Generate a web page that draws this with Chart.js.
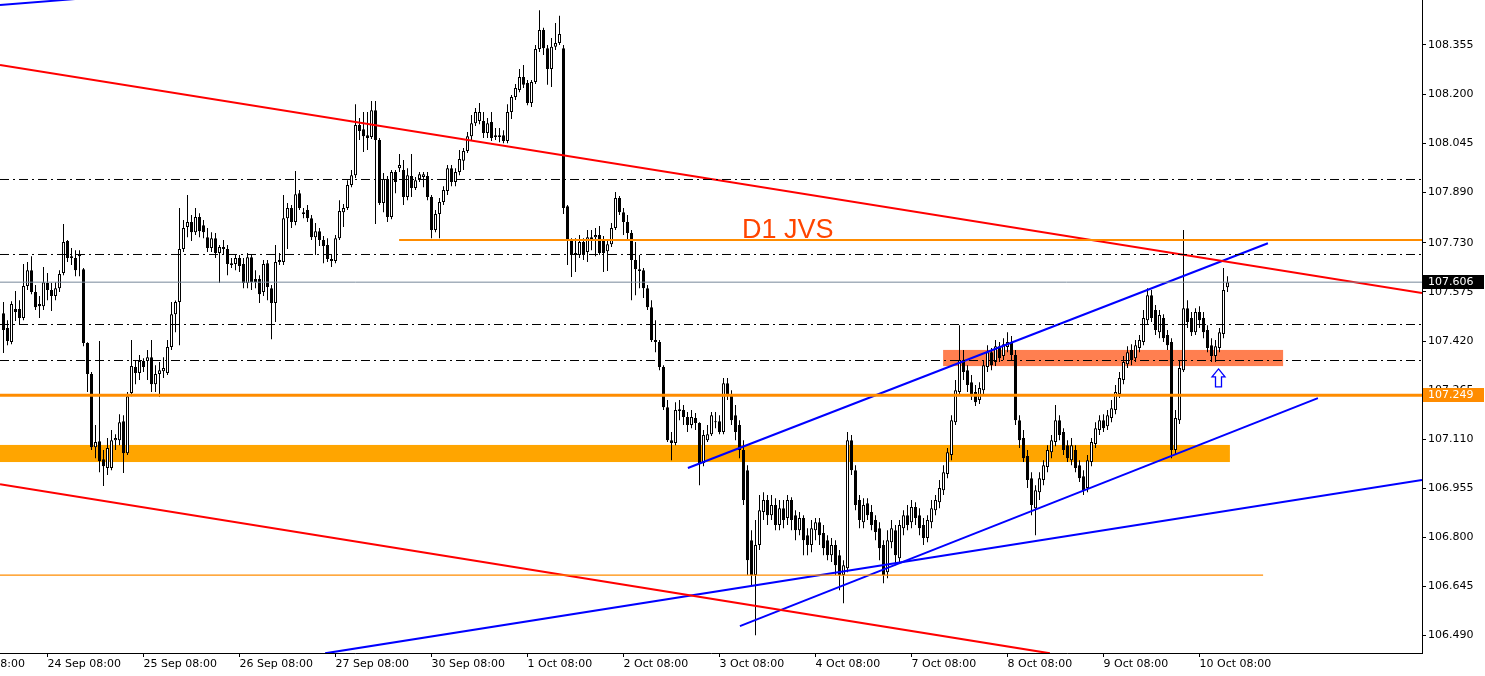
<!DOCTYPE html>
<html lang="en">
<head>
<meta charset="UTF-8" />
<title>H1 chart</title>
<script src="https://cdn.jsdelivr.net/npm/chart.js@4.4.1/dist/chart.umd.min.js"></script>
<style>
  html, body { margin: 0; padding: 0; background: #fff; }
  #wrap { width: 1485px; height: 676px; position: relative; }
</style>
</head>
<body>
<div id="wrap"><canvas id="chart"></canvas></div>
<script>
// hourly candles, index 0 = 23 Sep 21:00
const opens = [
  107.508,107.461,107.417,107.521,107.521,107.493,107.594,107.644,107.575,107.537,
  107.530,107.603,107.581,107.562,107.587,107.635,107.736,107.688,107.682,107.695,
  107.647,107.414,107.316,107.085,107.104,107.047,107.019,107.019,107.107,107.107,
  107.167,107.066,107.256,107.338,107.319,107.357,107.357,107.369,107.284,107.316,
  107.325,107.319,107.401,107.505,107.543,107.711,107.780,107.796,107.764,107.812,
  107.786,107.748,107.714,107.745,107.698,107.717,107.711,107.666,107.663,107.682,
  107.663,107.603,107.685,107.616,107.616,107.575,107.666,107.587,107.540,107.670,
  107.670,107.808,107.840,107.796,107.887,107.821,107.834,107.808,107.748,107.767,
  107.739,107.723,107.679,107.673,107.745,107.827,107.840,107.913,107.944,108.102,
  108.089,108.070,108.064,108.149,108.055,107.856,107.932,107.812,107.954,107.966,
  107.960,107.875,107.941,107.903,107.932,107.938,107.941,107.875,107.771,107.821,
  107.859,107.894,107.966,107.922,107.954,107.989,108.020,108.067,108.108,108.115,
  108.115,108.077,108.112,108.070,108.070,108.070,108.052,108.143,108.191,108.213,
  108.254,108.235,108.172,108.238,108.342,108.402,108.345,108.279,108.349,108.361,
  108.345,107.846,107.736,107.692,107.692,107.733,107.701,107.748,107.748,107.755,
  107.739,107.704,107.726,107.777,107.872,107.827,107.796,107.761,107.676,107.647,
  107.644,107.587,107.527,107.423,107.417,107.338,107.211,107.107,107.098,107.199,
  107.202,107.180,107.155,107.177,107.161,107.035,107.107,107.126,107.164,107.167,
  107.133,107.287,107.249,107.186,107.155,107.076,107.012,106.791,106.681,106.776,
  106.880,106.918,106.870,106.902,106.839,106.892,106.861,106.918,106.870,106.823,
  106.861,106.807,106.776,106.823,106.848,106.814,106.791,106.744,106.776,106.744,
  106.681,106.703,107.107,107.012,106.918,106.848,106.908,106.880,106.855,106.829,
  106.776,106.690,106.785,106.823,106.734,106.829,106.870,106.848,106.896,106.870,
  106.839,106.798,106.848,106.886,106.911,106.949,107.000,107.060,107.164,107.259,
  107.360,107.328,107.290,107.259,107.234,107.265,107.338,107.385,107.354,107.404,
  107.373,107.401,107.417,107.376,107.170,107.114,107.057,106.987,106.892,106.943,
  106.981,107.022,107.069,107.101,107.170,107.133,107.091,107.044,107.076,107.028,
  106.993,106.956,107.038,107.095,107.139,107.170,107.151,107.177,107.202,107.253,
  107.297,107.347,107.392,107.366,107.398,107.417,107.486,107.565,107.518,107.448,
  107.493,107.439,107.417,107.076,107.170,107.328,107.524,107.493,107.448,107.512,
  107.493,107.455,107.407,107.373,107.398,107.442,107.590
];
const highs = [
  107.543,107.486,107.546,107.578,107.549,107.663,107.670,107.688,107.597,107.562,
  107.654,107.635,107.603,107.606,107.644,107.790,107.739,107.714,107.707,107.707,
  107.651,107.416,107.322,107.155,107.420,107.076,107.114,107.139,107.126,107.189,
  107.186,107.259,107.423,107.360,107.376,107.366,107.392,107.423,107.344,107.354,
  107.369,107.423,107.543,107.548,107.840,107.802,107.881,107.818,107.840,107.824,
  107.802,107.777,107.764,107.761,107.723,107.739,107.723,107.682,107.692,107.692,
  107.682,107.698,107.692,107.644,107.628,107.676,107.676,107.597,107.723,107.698,
  107.881,107.856,107.850,107.957,107.897,107.840,107.850,107.818,107.793,107.777,
  107.752,107.745,107.692,107.755,107.865,107.853,107.928,107.960,108.168,108.124,
  108.143,108.143,108.178,108.178,108.061,107.951,107.941,107.960,107.960,108.011,
  107.992,107.966,108.011,107.938,107.954,107.954,107.954,107.881,107.834,107.872,
  107.909,107.976,107.976,107.966,108.023,108.030,108.080,108.134,108.156,108.172,
  108.143,108.124,108.143,108.093,108.093,108.086,108.168,108.197,108.232,108.279,
  108.292,108.244,108.244,108.355,108.465,108.409,108.355,108.377,108.424,108.447,
  108.355,107.850,107.745,107.745,107.755,107.745,107.771,107.771,107.777,107.783,
  107.752,107.739,107.793,107.891,107.878,107.840,107.818,107.771,107.733,107.692,
  107.651,107.597,107.549,107.486,107.423,107.344,107.234,107.133,107.227,107.234,
  107.218,107.196,107.202,107.193,107.164,107.139,107.155,107.196,107.196,107.186,
  107.303,107.303,107.265,107.218,107.170,107.107,107.028,106.823,106.855,106.934,
  106.943,106.934,106.934,106.924,106.918,106.918,106.934,106.927,106.886,106.880,
  106.870,106.829,106.855,106.861,106.861,106.839,106.807,106.798,106.791,106.760,
  106.728,107.133,107.123,107.028,106.934,106.924,106.924,106.902,106.870,106.848,
  106.791,106.823,106.855,106.839,106.855,106.886,106.902,106.918,106.911,106.892,
  106.861,106.870,106.918,106.934,106.981,107.028,107.082,107.186,107.297,107.470,
  107.392,107.344,107.313,107.281,107.290,107.360,107.407,107.398,107.423,107.417,
  107.429,107.448,107.436,107.392,107.186,107.139,107.076,107.006,106.965,107.006,
  107.044,107.091,107.123,107.218,107.186,107.145,107.107,107.114,107.091,107.044,
  107.012,107.060,107.114,107.164,107.186,107.189,107.202,107.234,107.281,107.322,
  107.373,107.404,107.410,107.423,107.439,107.518,107.587,107.581,107.534,107.518,
  107.505,107.455,107.429,107.202,107.360,107.771,107.549,107.512,107.524,107.530,
  107.512,107.470,107.429,107.423,107.461,107.651,107.625
];
const lows = [
  107.382,107.407,107.410,107.483,107.474,107.486,107.581,107.568,107.518,107.493,
  107.518,107.549,107.515,107.549,107.575,107.628,107.670,107.660,107.625,107.625,
  107.404,107.259,107.076,107.050,107.006,106.962,106.997,107.012,107.076,107.091,
  107.003,107.060,107.246,107.284,107.297,107.322,107.297,107.259,107.259,107.243,
  107.303,107.313,107.392,107.448,107.407,107.701,107.748,107.736,107.755,107.748,
  107.745,107.701,107.701,107.682,107.603,107.692,107.628,107.651,107.644,107.638,
  107.587,107.587,107.581,107.587,107.540,107.562,107.549,107.426,107.480,107.660,
  107.660,107.711,107.777,107.786,107.834,107.808,107.796,107.739,107.692,107.720,
  107.666,107.670,107.654,107.666,107.739,107.780,107.834,107.906,107.935,108.055,
  108.017,108.023,108.058,107.790,107.850,107.827,107.796,107.805,107.887,107.954,
  107.850,107.865,107.875,107.897,107.922,107.906,107.865,107.745,107.764,107.745,
  107.850,107.881,107.909,107.909,107.944,107.960,108.014,108.055,108.099,108.105,
  108.061,108.061,108.052,108.055,108.048,108.045,108.045,108.121,108.181,108.206,
  108.219,108.165,108.159,108.232,108.333,108.323,108.229,108.222,108.339,108.355,
  107.821,107.660,107.622,107.638,107.682,107.676,107.670,107.707,107.688,107.692,
  107.638,107.641,107.717,107.771,107.818,107.755,107.739,107.549,107.565,107.587,
  107.556,107.518,107.417,107.385,107.328,107.202,107.101,107.044,107.091,107.170,
  107.155,107.133,107.145,107.139,106.965,107.025,107.101,107.120,107.145,107.126,
  107.126,107.234,107.155,107.107,107.050,106.902,106.681,106.649,106.491,106.760,
  106.855,106.839,106.855,106.823,106.823,106.829,106.839,106.823,106.791,106.807,
  106.744,106.744,106.753,106.791,106.776,106.744,106.728,106.722,106.681,106.633,
  106.592,106.690,106.997,106.886,106.829,106.829,106.855,106.823,106.791,106.728,
  106.655,106.671,106.766,106.712,106.722,106.807,106.823,106.829,106.839,106.807,
  106.776,106.785,106.829,106.870,106.892,106.934,106.987,107.044,107.155,107.249,
  107.297,107.259,107.234,107.215,107.221,107.249,107.322,107.328,107.341,107.354,
  107.360,107.385,107.360,107.155,107.082,107.038,106.956,106.870,106.807,106.918,
  106.965,107.006,107.050,107.088,107.107,107.060,107.038,107.028,107.006,106.975,
  106.934,106.943,107.025,107.082,107.123,107.133,107.139,107.164,107.189,107.240,
  107.284,107.335,107.344,107.354,107.385,107.407,107.474,107.480,107.439,107.429,
  107.417,107.392,107.050,107.060,107.158,107.322,107.461,107.436,107.439,107.461,
  107.429,107.385,107.354,107.354,107.385,107.429,107.575
];
const closes = [
  107.455,107.420,107.537,107.512,107.493,107.594,107.644,107.575,107.527,107.530,
  107.606,107.581,107.562,107.587,107.632,107.733,107.682,107.682,107.644,107.688,
  107.414,107.316,107.085,107.101,107.041,107.025,107.082,107.107,107.114,107.164,
  107.066,107.246,107.341,107.319,107.357,107.338,107.369,107.284,107.316,107.328,
  107.335,107.401,107.505,107.543,107.711,107.777,107.796,107.764,107.812,107.767,
  107.764,107.714,107.745,107.698,107.717,107.711,107.663,107.660,107.682,107.657,
  107.603,107.685,107.606,107.606,107.568,107.663,107.591,107.540,107.670,107.676,
  107.808,107.840,107.796,107.884,107.840,107.827,107.808,107.748,107.767,107.739,
  107.720,107.679,107.673,107.745,107.831,107.840,107.913,107.944,108.102,108.083,
  108.067,108.061,108.149,108.055,107.856,107.932,107.812,107.954,107.922,107.976,
  107.875,107.944,107.903,107.928,107.947,107.947,107.875,107.771,107.821,107.859,
  107.897,107.966,107.922,107.954,107.995,108.020,108.067,108.108,108.143,108.143,
  108.077,108.108,108.061,108.064,108.064,108.052,108.143,108.191,108.219,108.254,
  108.229,108.172,108.238,108.342,108.402,108.345,108.279,108.349,108.361,108.390,
  107.840,107.736,107.692,107.698,107.733,107.692,107.748,107.742,107.755,107.698,
  107.698,107.726,107.777,107.872,107.827,107.796,107.761,107.676,107.647,107.641,
  107.587,107.527,107.423,107.417,107.338,107.211,107.107,107.098,107.202,107.205,
  107.180,107.155,107.180,107.161,107.035,107.123,107.126,107.186,107.167,107.133,
  107.287,107.249,107.170,107.133,107.076,106.918,106.728,106.681,106.776,106.886,
  106.918,106.870,106.902,106.839,106.892,106.855,106.918,106.855,106.823,106.861,
  106.791,106.776,106.829,106.848,106.807,106.766,106.744,106.776,106.712,106.681,
  106.712,107.107,107.012,106.902,106.855,106.902,106.870,106.839,106.817,106.766,
  106.681,106.791,106.829,106.744,106.839,106.870,106.839,106.896,106.861,106.829,
  106.798,106.855,106.892,106.918,106.956,107.006,107.069,107.170,107.265,107.360,
  107.322,107.281,107.246,107.227,107.272,107.344,107.385,107.344,107.404,107.366,
  107.410,107.417,107.376,107.170,107.107,107.050,106.981,106.902,106.949,106.987,
  107.028,107.076,107.107,107.170,107.123,107.076,107.050,107.091,107.019,106.987,
  106.949,107.044,107.101,107.145,107.170,107.145,107.186,107.208,107.259,107.303,
  107.354,107.385,107.360,107.407,107.423,107.493,107.565,107.493,107.455,107.502,
  107.429,107.407,107.076,107.177,107.335,107.524,107.480,107.448,107.512,107.486,
  107.448,107.398,107.373,107.404,107.448,107.581,107.606
];

// time axis: candle index of each "dd Mon 08:00" tick
const timeTicks = [-13, 11, 35, 59, 83, 107, 131, 155, 179, 203, 227, 251, 275, 299];
const timeLabels = ['23 Sep 08:00', '24 Sep 08:00', '25 Sep 08:00', '26 Sep 08:00', '27 Sep 08:00',
  '30 Sep 08:00', '1 Oct 08:00', '2 Oct 08:00', '3 Oct 08:00', '4 Oct 08:00',
  '7 Oct 08:00', '8 Oct 08:00', '9 Oct 08:00', '10 Oct 08:00'];
const priceTicks = [106.490, 106.645, 106.800, 106.955, 107.110, 107.265, 107.420,
  107.575, 107.730, 107.890, 108.045, 108.200, 108.355, 108.510];

// drawn objects: [candle index, price]
const redTop = [[-0.875, 108.292], [354.625, 107.572]];
const redBottom = [[-0.875, 106.968], [261.6, 106.434]];
const blueTopLeft = [[-0.875, 108.481], [17.9, 108.500]];
const blueLong = [[80.4, 106.434], [354.625, 106.981]];
const channelUp = [[171.1, 107.019], [316.1, 107.729]];
const channelLow = [[184.1, 106.520], [328.6, 107.240]];
const dashDotLevels = [107.9302, 107.6934, 107.4723, 107.3586];
const lastPrice = 107.606;
const keyLevel = 107.249;
const jvsLevel = [98.9, 107.7391];
const lowLevel = [314.9, 106.681];
const band = [-0.875, 306.6, 107.092, 107.038];
const zone = [234.9, 319.9, 107.392, 107.341];
const jvsText = [184.6, 107.745];
const arrowTip = [303.75, 107.332];

const X_MIN = -0.875, X_MAX = 354.625;

Chart.defaults.font.family = '"DejaVu Sans", Verdana, sans-serif';
Chart.defaults.font.size = 11;
Chart.defaults.color = '#000';

function seg(points, color, width, dash) {
  return {
    type: 'line',
    data: points.map(p => ({ x: p[0], y: p[1] })),
    borderColor: color,
    borderWidth: width,
    borderDash: dash || [],
    pointRadius: 0,
    fill: false,
    tension: 0,
    order: 0
  };
}

const idx = opens.map((_, i) => i);

const lineSets = [
  seg([[X_MIN, lastPrice], [X_MAX, lastPrice]], '#778899', 1),
  ...dashDotLevels.map(v => seg([[X_MIN, v], [X_MAX, v]], '#000', 1, [9, 4, 2, 4])),
  seg([[jvsLevel[0], jvsLevel[1]], [X_MAX, jvsLevel[1]]], '#FF8C00', 2),
  seg([[X_MIN, keyLevel], [X_MAX, keyLevel]], '#FF8C00', 3),
  seg([[X_MIN, lowLevel[1]], [lowLevel[0], lowLevel[1]]], '#FF8C00', 1.2),
  seg(redTop, '#FF0000', 2),
  seg(redBottom, '#FF0000', 2),
  seg(blueTopLeft, '#0000FF', 2),
  seg(blueLong, '#0000FF', 2),
  seg(channelUp, '#0000FF', 2),
  seg(channelLow, '#0000FF', 2)
];

const overlay = {
  id: 'overlay',
  beforeDatasetsDraw(chart) {
    const { ctx, chartArea: a, scales: { x, y } } = chart;
    ctx.save();
    ctx.beginPath();
    ctx.rect(a.left, a.top, a.right - a.left, a.bottom - a.top);
    ctx.clip();
    let x0 = x.getPixelForValue(band[0]), x1 = x.getPixelForValue(band[1]);
    let y0 = y.getPixelForValue(band[2]), y1 = y.getPixelForValue(band[3]);
    ctx.fillStyle = '#FFA500';
    ctx.fillRect(x0, y0, x1 - x0, y1 - y0);
    x0 = x.getPixelForValue(zone[0]); x1 = x.getPixelForValue(zone[1]);
    y0 = y.getPixelForValue(zone[2]); y1 = y.getPixelForValue(zone[3]);
    ctx.fillStyle = '#FF7F50';
    ctx.fillRect(x0, y0, x1 - x0, y1 - y0);
    ctx.restore();
  },
  afterDatasetsDraw(chart) {
    const { ctx, scales: { x, y } } = chart;
    ctx.save();
    // label
    ctx.font = '27px "Liberation Sans", Arial, sans-serif';
    ctx.fillStyle = '#FF4500';
    ctx.textAlign = 'left';
    ctx.textBaseline = 'alphabetic';
    ctx.fillText('D1 JVS', x.getPixelForValue(jvsText[0]), y.getPixelForValue(jvsText[1]));
    // up arrow
    const ax = x.getPixelForValue(arrowTip[0]), ay = y.getPixelForValue(arrowTip[1]);
    ctx.beginPath();
    ctx.moveTo(ax, ay);
    ctx.lineTo(ax + 6.5, ay + 8);
    ctx.lineTo(ax + 3, ay + 8);
    ctx.lineTo(ax + 3, ay + 18);
    ctx.lineTo(ax - 3, ay + 18);
    ctx.lineTo(ax - 3, ay + 8);
    ctx.lineTo(ax - 6.5, ay + 8);
    ctx.closePath();
    ctx.fillStyle = '#fff';
    ctx.fill();
    ctx.strokeStyle = '#0000FF';
    ctx.lineWidth = 1.3;
    ctx.stroke();
    ctx.restore();
  },
  afterDraw(chart) {
    const { ctx, chartArea: a, scales: { y } } = chart;
    ctx.save();
    ctx.font = '11px "DejaVu Sans", Verdana, sans-serif';
    ctx.textBaseline = 'middle';
    ctx.textAlign = 'left';
    [[lastPrice, '#000'], [keyLevel, '#FF8C00']].forEach(([v, col]) => {
      const py = Math.round(y.getPixelForValue(v));
      ctx.fillStyle = col;
      ctx.fillRect(a.right + 1, py - 7, 61, 14);
      ctx.fillStyle = '#fff';
      ctx.fillText(v.toFixed(3), a.right + 6, py + 0.5);
    });
    ctx.restore();
  }
};

new Chart(document.getElementById('chart'), {
  type: 'bar',
  data: {
    datasets: [
      ...lineSets,
      {
        type: 'bar',
        data: idx.map(i => ({ x: i, y: [opens[i], closes[i]] })),
        backgroundColor: c => (closes[c.dataIndex] >= opens[c.dataIndex] ? '#fff' : '#000'),
        borderColor: '#000',
        borderWidth: 1,
        borderSkipped: false,
        barThickness: 3,
        inflateAmount: 0,
        grouped: false,
        order: 1
      },
      {
        type: 'bar',
        data: idx.map(i => ({ x: i, y: [lows[i], highs[i]] })),
        backgroundColor: '#000',
        borderWidth: 0,
        barThickness: 1,
        inflateAmount: 0,
        grouped: false,
        order: 2
      }
    ]
  },
  options: {
    responsive: true,
    maintainAspectRatio: false,
    animation: false,
    layout: { padding: 0, autoPadding: false },
    plugins: { legend: { display: false }, tooltip: { enabled: false } },
    scales: {
      x: {
        type: 'linear',
        min: X_MIN,
        max: X_MAX,
        offset: false,
        grid: { drawOnChartArea: false, drawTicks: true, tickLength: 4, color: '#000', offset: false },
        border: { display: true, color: '#000', width: 1 },
        afterBuildTicks: s => { s.ticks = timeTicks.map(v => ({ value: v })); },
        afterFit: s => { s.height = 23; s.paddingLeft = 0; s.paddingRight = 0; },
        ticks: {
          autoSkip: false, maxRotation: 0, minRotation: 0, align: 'start', padding: 1,
          callback: (v, i) => timeLabels[i]
        }
      },
      y: {
        type: 'linear',
        position: 'right',
        min: 106.435,
        max: 108.497,
        grid: { drawOnChartArea: false, drawTicks: true, tickLength: 4, color: '#000' },
        border: { display: true, color: '#000', width: 1 },
        afterBuildTicks: s => { s.ticks = priceTicks.map(v => ({ value: v })); },
        afterFit: s => { s.width = 63; s.paddingTop = 0; s.paddingBottom = 0; },
        ticks: { padding: 2, callback: v => v.toFixed(3) }
      }
    }
  },
  plugins: [overlay]
});
</script>
</body>
</html>
